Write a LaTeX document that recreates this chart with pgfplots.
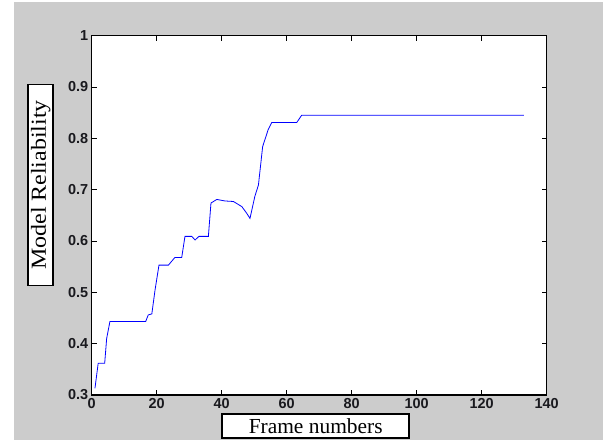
\documentclass[border=0pt]{standalone}
\usepackage{pgfplots}
\pgfplotsset{compat=1.18}
\usepackage{fontspec}
\setmainfont{Liberation Serif}
\setsansfont{Liberation Sans}
\definecolor{figgray}{RGB}{204,204,204}
\definecolor{ticktext}{RGB}{25,25,30}
\begin{document}
\begin{tikzpicture}[x=1bp,y=1bp]
\useasboundingbox (0,0) rectangle (608,440);
\clip (0,0) rectangle (608,440);
\fill[white] (0,0) rectangle (608,440);
\fill[figgray] (14,0) rectangle (603,438);
\begin{axis}[
  at={(91.7bp,45bp)}, anchor=south west,
  width=455bp, height=359.3bp, scale only axis,
  xmin=0, xmax=140, ymin=0.3, ymax=1,
  xtick={0,20,...,140},
  ytick={0.3,0.4,0.5,0.6,0.7,0.8,0.9,1},
  axis background/.style={fill=white},
  axis line style={black, line width=1.1bp},
  tick align=inside,
  major tick length=5bp,
  every tick/.style={black, line width=0.6bp},
  tick label style={font=\sffamily\bfseries\fontsize{14.5}{15}\selectfont, text=ticktext},
  /pgf/number format/.cd, fixed, precision=1, assume math mode=true,
  /pgfplots/.cd,
  xlabel={Frame numbers},
  ylabel={\scalebox{1.12}[1]{Model Reliability}\hspace{16bp}},
  xlabel style={at={(axis description cs:0.4923,-0.0871)}, anchor=center,
    draw=black, line width=1.6bp, fill=white, inner sep=0pt,
    minimum width=187bp, minimum height=24bp,
    font=\fontsize{21.5}{22}\selectfont},
  ylabel style={at={(axis description cs:-0.1119,0.5845)}, anchor=center, rotate=0,
    draw=black, line width=1.6bp, fill=white, inner sep=0pt,
    minimum width=201bp, minimum height=25bp,
    font=\fontsize{21.5}{22}\selectfont},
]
\addplot[blue, line width=0.8bp] coordinates {
(1,0.313) (2,0.362) (4,0.362) (4.6,0.41) (5.6,0.443) (16.6,0.443)
(17.4,0.456) (18.5,0.458) (19.5,0.505) (20.7,0.553) (23.6,0.553)
(25.6,0.568) (27.7,0.568) (28.7,0.609) (30.8,0.609) (31.8,0.602)
(33,0.609) (35.9,0.609) (36.7,0.674) (38.5,0.681) (41,0.678)
(43.6,0.677) (46.2,0.667) (47.7,0.654) (48.7,0.644) (50.2,0.687)
(51.3,0.709) (52.6,0.784) (54.3,0.817) (55.4,0.831) (63.1,0.831)
(64.6,0.845) (133,0.845)
};
\end{axis}
\end{tikzpicture}
\end{document}
